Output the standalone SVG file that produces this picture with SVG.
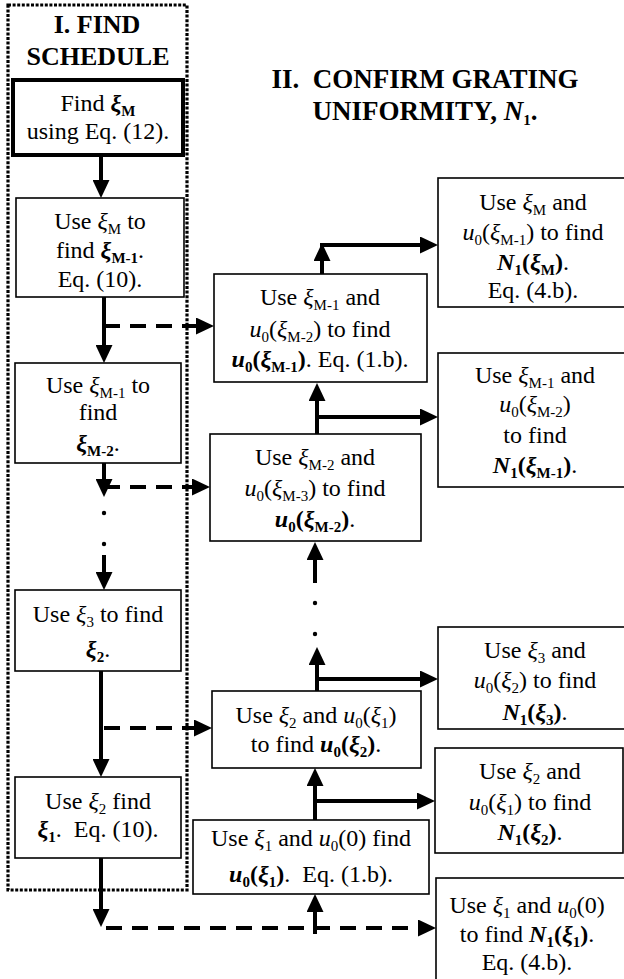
<svg xmlns="http://www.w3.org/2000/svg" width="624" height="979" viewBox="0 0 624 979">
<style>
.t{font-family:"Liberation Serif","Times New Roman",serif;font-size:24px;text-anchor:middle;fill:#000}
.h{font-weight:bold;font-size:26px}
.h2{font-size:27px}
.i{font-style:italic}
.b{font-weight:bold}
.s{font-size:15px}
.box{fill:#fff;stroke:#000;stroke-width:1.6}
.thick{stroke-width:4}
.c{fill:none;stroke:#000;stroke-width:4}
.d{fill:none;stroke:#000;stroke-width:4;stroke-dasharray:16 10}
.frame{fill:none;stroke:#000;stroke-width:3.2;stroke-dasharray:3 1.6}
</style>
<defs>
<marker id="ah" viewBox="0 0 18 17" refX="0" refY="8.5" markerWidth="18" markerHeight="17" orient="auto" markerUnits="userSpaceOnUse">
<path d="M0,0 L18,8.5 L0,17 z" fill="#000"/>
</marker>
</defs>
<rect width="624" height="979" fill="#fff"/>

<g id="frame-I">
<rect class="frame" x="8" y="5" width="179" height="885"/>
<text class="t h" x="97" y="33">I. FIND</text>
<text class="t h" x="98" y="65">SCHEDULE</text>
</g>

<g id="title-II">
<text class="t h h2" x="425" y="88" xml:space="preserve">II.  CONFIRM GRATING</text>
<text class="t h h2" x="425" y="120">UNIFORMITY, <tspan class="i">N</tspan><tspan class="s" dy="5">1</tspan><tspan dy="-5">.</tspan></text>
</g>

<g id="connectors">
<path class="c" d="M101,155 V180" marker-end="url(#ah)"/>
<path class="c" d="M104,297 V345" marker-end="url(#ah)"/>
<path class="d" d="M104,326 H196" marker-end="url(#ah)"/>
<path class="c" d="M104,463 V479" marker-end="url(#ah)"/>
<path class="d" d="M104,487 H192" marker-end="url(#ah)"/>
<circle cx="104" cy="513" r="2.2"/>
<circle cx="104" cy="544" r="2.2"/>
<path class="c" d="M104,555 V572" marker-end="url(#ah)"/>
<path class="c" d="M101,671 V759" marker-end="url(#ah)"/>
<path class="d" d="M104,728 H194" marker-end="url(#ah)"/>
<path class="c" d="M101,858 V909" marker-end="url(#ah)"/>
<path class="d" d="M106,928 H418" marker-end="url(#ah)"/>
<path class="c" d="M315,934 V912" marker-end="url(#ah)"/>

<path class="c" d="M322,274 V261" marker-end="url(#ah)"/>
<path class="c" d="M320,245 H420" marker-end="url(#ah)"/>
<path class="c" d="M317,434 V401" marker-end="url(#ah)"/>
<path class="c" d="M317,417 H420" marker-end="url(#ah)"/>
<path class="c" d="M315,583 V560" marker-end="url(#ah)"/>
<circle cx="315" cy="603" r="2.2"/>
<circle cx="315" cy="634" r="2.2"/>
<path class="c" d="M317,691 V665" marker-end="url(#ah)"/>
<path class="c" d="M317,679 H420" marker-end="url(#ah)"/>
<path class="c" d="M315,820 V786" marker-end="url(#ah)"/>
<path class="c" d="M315,801 H417" marker-end="url(#ah)"/>
</g>

<g id="n1">
<rect class="box thick" x="13" y="80" width="170" height="75"/>
<text class="t" x="98" y="111">Find <tspan class="i b">ξ</tspan><tspan class="s b" dy="5">M</tspan></text>
<text class="t" x="98" y="139">using Eq. (12).</text>
</g>

<g id="n2">
<rect class="box" x="16" y="198" width="168" height="99"/>
<text class="t" x="100" y="229">Use <tspan class="i">ξ</tspan><tspan class="s" dy="5">M</tspan><tspan dy="-5"> to</tspan></text>
<text class="t" x="100" y="258">find <tspan class="i b">ξ</tspan><tspan class="s b" dy="5">M-1</tspan><tspan dy="-5">.</tspan></text>
<text class="t" x="100" y="287">Eq. (10).</text>
</g>

<g id="n3">
<rect class="box" x="15" y="363" width="166" height="100"/>
<text class="t" x="98" y="393">Use <tspan class="i">ξ</tspan><tspan class="s" dy="5">M-1</tspan><tspan dy="-5"> to</tspan></text>
<text class="t" x="98" y="420">find</text>
<text class="t" x="98" y="451"><tspan class="i b">ξ</tspan><tspan class="s b" dy="5">M-2</tspan><tspan dy="-5">.</tspan></text>
</g>

<g id="n4">
<rect class="box" x="15" y="590" width="166" height="81"/>
<text class="t" x="98" y="622">Use <tspan class="i">ξ</tspan><tspan class="s" dy="5">3</tspan><tspan dy="-5"> to find</tspan></text>
<text class="t" x="98" y="657"><tspan class="i b">ξ</tspan><tspan class="s b" dy="5">2</tspan><tspan dy="-5">.</tspan></text>
</g>

<g id="n5">
<rect class="box" x="15" y="777" width="166" height="81"/>
<text class="t" x="98" y="809">Use <tspan class="i">ξ</tspan><tspan class="s" dy="5">2</tspan><tspan dy="-5"> find</tspan></text>
<text class="t" x="98" y="837" xml:space="preserve"><tspan class="i b">ξ</tspan><tspan class="s b" dy="5">1</tspan><tspan dy="-5">.  Eq. (10).</tspan></text>
</g>

<g id="m1">
<rect class="box" x="214" y="274" width="213" height="108"/>
<text class="t" x="320" y="305">Use <tspan class="i">ξ</tspan><tspan class="s" dy="5">M-1</tspan><tspan dy="-5"> and</tspan></text>
<text class="t" x="320" y="337"><tspan class="i">u</tspan><tspan class="s" dy="5">0</tspan><tspan dy="-5">(</tspan><tspan class="i">ξ</tspan><tspan class="s" dy="5">M-2</tspan><tspan dy="-5">) to find</tspan></text>
<text class="t" x="320" y="367"><tspan class="i b">u</tspan><tspan class="s b" dy="5">0</tspan><tspan class="b" dy="-5">(</tspan><tspan class="i b">ξ</tspan><tspan class="s b" dy="5">M-1</tspan><tspan class="b" dy="-5">)</tspan>. Eq. (1.b).</text>
</g>

<g id="m2">
<rect class="box" x="210" y="434" width="211" height="107"/>
<text class="t" x="315" y="465">Use <tspan class="i">ξ</tspan><tspan class="s" dy="5">M-2</tspan><tspan dy="-5"> and</tspan></text>
<text class="t" x="315" y="496"><tspan class="i">u</tspan><tspan class="s" dy="5">0</tspan><tspan dy="-5">(</tspan><tspan class="i">ξ</tspan><tspan class="s" dy="5">M-3</tspan><tspan dy="-5">) to find</tspan></text>
<text class="t" x="315" y="527"><tspan class="i b">u</tspan><tspan class="s b" dy="5">0</tspan><tspan class="b" dy="-5">(</tspan><tspan class="i b">ξ</tspan><tspan class="s b" dy="5">M-2</tspan><tspan class="b" dy="-5">)</tspan>.</text>
</g>

<g id="m3">
<rect class="box" x="212" y="691" width="209" height="77"/>
<text class="t" x="316" y="723">Use <tspan class="i">ξ</tspan><tspan class="s" dy="5">2</tspan><tspan dy="-5"> and </tspan><tspan class="i">u</tspan><tspan class="s" dy="5">0</tspan><tspan dy="-5">(</tspan><tspan class="i">ξ</tspan><tspan class="s" dy="5">1</tspan><tspan dy="-5">)</tspan></text>
<text class="t" x="316" y="752">to find <tspan class="i b">u</tspan><tspan class="s b" dy="5">0</tspan><tspan class="b" dy="-5">(</tspan><tspan class="i b">ξ</tspan><tspan class="s b" dy="5">2</tspan><tspan class="b" dy="-5">)</tspan>.</text>
</g>

<g id="m4">
<rect class="box" x="193" y="820" width="236" height="74"/>
<text class="t" x="311" y="846">Use <tspan class="i">ξ</tspan><tspan class="s" dy="5">1</tspan><tspan dy="-5"> and </tspan><tspan class="i">u</tspan><tspan class="s" dy="5">0</tspan><tspan dy="-5">(0) find</tspan></text>
<text class="t" x="311" y="882" xml:space="preserve"><tspan class="i b">u</tspan><tspan class="s b" dy="5">0</tspan><tspan class="b" dy="-5">(</tspan><tspan class="i b">ξ</tspan><tspan class="s b" dy="5">1</tspan><tspan class="b" dy="-5">)</tspan>.  Eq. (1.b).</text>
</g>

<g id="r1">
<rect class="box" x="438" y="178" width="200" height="129"/>
<text class="t" x="533" y="210">Use <tspan class="i">ξ</tspan><tspan class="s" dy="5">M</tspan><tspan dy="-5"> and</tspan></text>
<text class="t" x="533" y="240"><tspan class="i">u</tspan><tspan class="s" dy="5">0</tspan><tspan dy="-5">(</tspan><tspan class="i">ξ</tspan><tspan class="s" dy="5">M-1</tspan><tspan dy="-5">) to find</tspan></text>
<text class="t" x="533" y="270"><tspan class="i b">N</tspan><tspan class="s b" dy="5">1</tspan><tspan class="b" dy="-5">(</tspan><tspan class="i b">ξ</tspan><tspan class="s b" dy="5">M</tspan><tspan class="b" dy="-5">)</tspan>.</text>
<text class="t" x="533" y="298">Eq. (4.b).</text>
</g>

<g id="r2">
<rect class="box" x="438" y="353" width="200" height="134"/>
<text class="t" x="535" y="383">Use <tspan class="i">ξ</tspan><tspan class="s" dy="5">M-1</tspan><tspan dy="-5"> and</tspan></text>
<text class="t" x="535" y="412"><tspan class="i">u</tspan><tspan class="s" dy="5">0</tspan><tspan dy="-5">(</tspan><tspan class="i">ξ</tspan><tspan class="s" dy="5">M-2</tspan><tspan dy="-5">)</tspan></text>
<text class="t" x="535" y="443">to find</text>
<text class="t" x="535" y="473"><tspan class="i b">N</tspan><tspan class="s b" dy="5">1</tspan><tspan class="b" dy="-5">(</tspan><tspan class="i b">ξ</tspan><tspan class="s b" dy="5">M-1</tspan><tspan class="b" dy="-5">)</tspan>.</text>
</g>

<g id="r3">
<rect class="box" x="438" y="627" width="200" height="102"/>
<text class="t" x="535" y="658">Use <tspan class="i">ξ</tspan><tspan class="s" dy="5">3</tspan><tspan dy="-5"> and</tspan></text>
<text class="t" x="535" y="688"><tspan class="i">u</tspan><tspan class="s" dy="5">0</tspan><tspan dy="-5">(</tspan><tspan class="i">ξ</tspan><tspan class="s" dy="5">2</tspan><tspan dy="-5">) to find</tspan></text>
<text class="t" x="535" y="720"><tspan class="i b">N</tspan><tspan class="s b" dy="5">1</tspan><tspan class="b" dy="-5">(</tspan><tspan class="i b">ξ</tspan><tspan class="s b" dy="5">3</tspan><tspan class="b" dy="-5">)</tspan>.</text>
</g>

<g id="r4">
<rect class="box" x="435" y="748" width="188" height="105"/>
<text class="t" x="530" y="779">Use <tspan class="i">ξ</tspan><tspan class="s" dy="5">2</tspan><tspan dy="-5"> and</tspan></text>
<text class="t" x="530" y="810"><tspan class="i">u</tspan><tspan class="s" dy="5">0</tspan><tspan dy="-5">(</tspan><tspan class="i">ξ</tspan><tspan class="s" dy="5">1</tspan><tspan dy="-5">) to find</tspan></text>
<text class="t" x="530" y="840"><tspan class="i b">N</tspan><tspan class="s b" dy="5">1</tspan><tspan class="b" dy="-5">(</tspan><tspan class="i b">ξ</tspan><tspan class="s b" dy="5">2</tspan><tspan class="b" dy="-5">)</tspan>.</text>
</g>

<g id="r5">
<rect class="box" x="436" y="878" width="200" height="120"/>
<text class="t" x="527" y="913">Use <tspan class="i">ξ</tspan><tspan class="s" dy="5">1</tspan><tspan dy="-5"> and </tspan><tspan class="i">u</tspan><tspan class="s" dy="5">0</tspan><tspan dy="-5">(0)</tspan></text>
<text class="t" x="527" y="942">to find <tspan class="i b">N</tspan><tspan class="s b" dy="5">1</tspan><tspan class="b" dy="-5">(</tspan><tspan class="i b">ξ</tspan><tspan class="s b" dy="5">1</tspan><tspan class="b" dy="-5">)</tspan>.</text>
<text class="t" x="527" y="970">Eq. (4.b).</text>
</g>
</svg>
